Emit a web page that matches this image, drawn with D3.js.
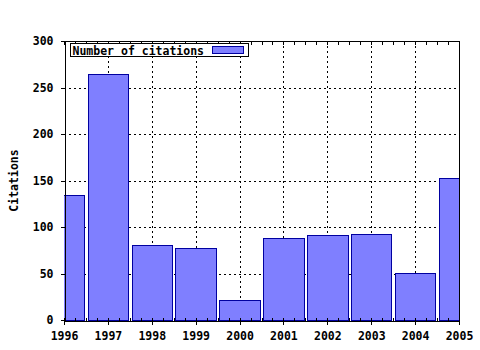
<!DOCTYPE html>
<meta charset="utf-8">
<style>
  body { margin: 0; background: #fff; }
  .axis text { font-family: "DejaVu Sans Mono", monospace; font-weight: bold; font-size: 11.5px; fill: #000; }
  .axis path, .axis line { stroke: #000; shape-rendering: crispEdges; }
  .grid line { stroke: #000; stroke-dasharray: 2,3; shape-rendering: crispEdges; }
  .bar { fill: #7f7fff; stroke: #0000a0; stroke-width: 1; shape-rendering: crispEdges; }
  .label { font-family: "DejaVu Sans Mono", monospace; font-weight: bold; font-size: 11.5px; }
</style>
<body></body>
<script src="https://d3js.org/d3.v7.min.js"></script>
<script>
// data
var years = [1996, 1997, 1998, 1999, 2000, 2001, 2002, 2003, 2004, 2005];
var citations = [134, 264, 81, 77, 22, 88, 91, 92, 51, 153];
var yTicks = [0, 50, 100, 150, 200, 250, 300];
var seriesName = "Number of citations";
var yLabel = "Citations";

var width = 480, height = 350;
var margin = {top: 41, right: 21, bottom: 30, left: 64};
var plotW = width - margin.left - margin.right,
    plotH = height - margin.top - margin.bottom + 1;

var svg = d3.select("body").append("svg")
    .attr("width", width)
    .attr("height", height);

var x = d3.scaleLinear().domain([1996, 2005]).range([margin.left, margin.left + plotW]);
var y = d3.scaleLinear().domain([0, 300]).range([margin.top + plotH - 1, margin.top]);

svg.append("defs").append("clipPath").attr("id", "clip")
  .append("rect")
    .attr("x", margin.left).attr("y", margin.top)
    .attr("width", plotW).attr("height", plotH);

// grid
var grid = svg.append("g").attr("class", "grid");
grid.selectAll(".gx").data(years.slice(1, -1)).enter().append("line")
    .attr("x1", d => Math.round(x(d)) + 0.5).attr("x2", d => Math.round(x(d)) + 0.5)
    .attr("y1", y(300)).attr("y2", y(0));
grid.selectAll(".gy").data(yTicks.slice(1, -1)).enter().append("line")
    .attr("x1", x(1996)).attr("x2", x(2005))
    .attr("y1", d => Math.round(y(d)) + 0.5).attr("y2", d => Math.round(y(d)) + 0.5);

// bars
var barW = 0.92;
svg.append("g").attr("clip-path", "url(#clip)")
  .selectAll(".bar").data(years).enter().append("rect")
    .attr("class", "bar")
    .attr("x", d => Math.round(x(d - barW / 2)) + 0.5)
    .attr("width", d => Math.round(x(d + barW / 2)) - Math.round(x(d - barW / 2)))
    .attr("y", (d, i) => Math.round(y(citations[i])) + 0.5)
    .attr("height", (d, i) => Math.round(y(0)) - Math.round(y(citations[i])));

// minor ticks (quarters of a year)
var minor = d3.range(1996, 2005.01, 0.25);

var xAxis = svg.append("g").attr("class", "axis")
    .attr("transform", "translate(0," + (Math.round(y(0)) + 0.5) + ")")
    .call(d3.axisBottom(x).tickValues(years).tickFormat(d3.format("d")).tickSize(4).tickPadding(7).tickSizeOuter(0));
xAxis.selectAll(".minor").data(minor).enter().append("line")
    .attr("x1", d => Math.round(x(d)) + 0.5).attr("x2", d => Math.round(x(d)) + 0.5)
    .attr("y1", 0).attr("y2", -3).attr("stroke", "#000");

var yAxis = svg.append("g").attr("class", "axis")
    .attr("transform", "translate(" + (margin.left + 0.5) + ",0)")
    .call(d3.axisLeft(y).tickValues(yTicks).tickSize(4).tickPadding(7).tickSizeOuter(0));

// top border with minor ticks
var topBorder = svg.append("g").attr("class", "axis")
    .attr("transform", "translate(0," + (margin.top + 0.5) + ")");
topBorder.append("line").attr("x1", x(1996)).attr("x2", x(2005) + 1);
topBorder.selectAll(".minor").data(minor).enter().append("line")
    .attr("x1", d => Math.round(x(d)) + 0.5).attr("x2", d => Math.round(x(d)) + 0.5)
    .attr("y1", 0).attr("y2", 3);

// right border
svg.append("line")
    .attr("x1", Math.round(x(2005)) + 0.5).attr("x2", Math.round(x(2005)) + 0.5)
    .attr("y1", y(300)).attr("y2", y(0))
    .attr("stroke", "#000").attr("shape-rendering", "crispEdges");

// y label
svg.append("text").attr("class", "label")
    .attr("transform", "translate(18," + ((y(0) + y(300)) / 2) + ") rotate(-90)")
    .attr("text-anchor", "middle")
    .text(yLabel);

// legend
var lg = svg.append("g").attr("transform", "translate(70.5,43.5)");
lg.append("rect").attr("width", 178).attr("height", 13)
    .attr("fill", "#fff").attr("stroke", "#000").attr("shape-rendering", "crispEdges");
lg.append("text").attr("class", "label").attr("x", 2).attr("y", 11).text(seriesName);
lg.append("rect").attr("class", "bar").attr("x", 142).attr("y", 3).attr("width", 31).attr("height", 7);
</script>
